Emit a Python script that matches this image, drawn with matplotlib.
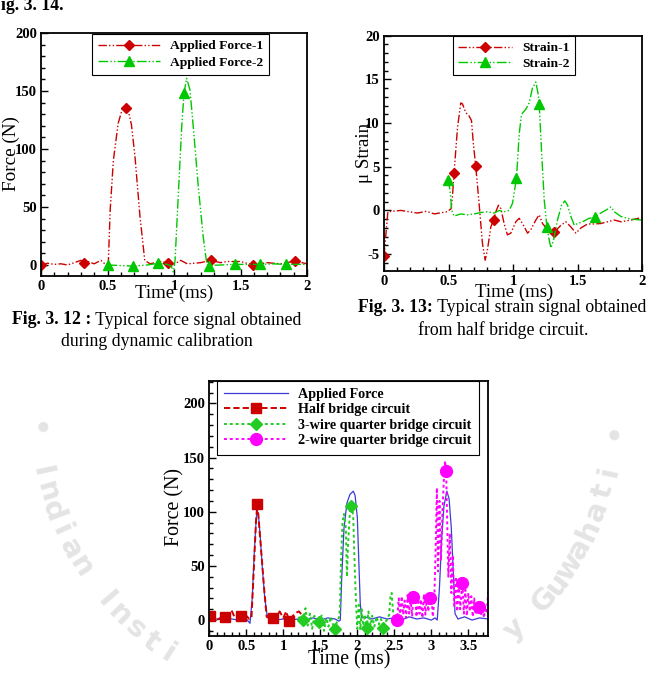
import numpy as np
import matplotlib
matplotlib.use('Agg')
import matplotlib.pyplot as plt
from matplotlib.lines import Line2D
from matplotlib.ticker import MultipleLocator

plt.rcParams['font.family'] = ['Liberation Serif', 'DejaVu Serif']

# ---------------- data: Fig 3.12 (force signal) ----------------
f1_time = [0, 0.05, 0.1, 0.15, 0.2, 0.25, 0.3, 0.323, 0.35, 0.4, 0.45, 0.48, 0.506,
           0.52, 0.544, 0.58, 0.61, 0.64, 0.66, 0.68, 0.707, 0.744, 0.78, 0.82, 0.86,
           0.9, 0.957, 1.0, 1.05, 1.1, 1.15, 1.2, 1.276, 1.35, 1.4, 1.5, 1.596, 1.7,
           1.8, 1.91, 2.0]
f1_force = [0, 1.5, 0.5, 1, 0, 2, 4, 1.5, 3, 1, 4, 1, 1,
            47, 90, 122, 134, 137, 131, 121, 93, 42, 4, 1, 2,
            3, 1.7, 0.5, 4, 1, 1.5, 2, 4, 2, 3, 3, 0, 2,
            1, 3.4, 1]
f1_mk_time = [0, 0.323, 0.64, 0.957, 1.276, 1.596, 1.91]
f1_mk_force = [0, 1.5, 135, 1.7, 4, 0, 3.4]

f2_time = [0.5, 0.6, 0.69, 0.8, 0.882, 0.95, 0.98, 0.995, 1.008, 1.033, 1.058, 1.075,
           1.095, 1.12, 1.145, 1.183, 1.22, 1.246, 1.266, 1.35, 1.459, 1.55, 1.647,
           1.75, 1.84, 2.0]
f2_force = [0, -0.5, -1, 0, 1.5, 0.5, -1, -6, 4, 62, 119, 148,
            161, 151, 119, 67, 24, 1.5, -0.5, 0, 0.5, 0.5, 0.5,
            1, 0.5, 0.5]
f2_mk_time = [0.5, 0.689, 0.882, 1.075, 1.266, 1.459, 1.647, 1.84]
f2_mk_force = [0, -1, 1.5, 148, -0.5, 0.5, 0.5, 0.5]

# ---------------- data: Fig 3.13 (strain signal) ----------------
s1_time = [0, 0.03, 0.13, 0.26, 0.33, 0.39, 0.49, 0.52, 0.53, 0.543, 0.57, 0.595,
           0.608, 0.634, 0.66, 0.678, 0.693, 0.711, 0.737, 0.763, 0.784, 0.802,
           0.828, 0.849, 0.867, 0.887, 0.906, 0.931, 0.957, 0.983, 1.022, 1.048,
           1.081, 1.113, 1.138, 1.177, 1.203, 1.229, 1.268, 1.32, 1.371, 1.41,
           1.449, 1.488, 1.527, 1.578, 1.63, 1.68, 1.733, 1.785, 1.837, 1.915, 2.0]
s1_strain = [-5.2, -0.15, 0, -0.3, -0.1, -0.4, -0.15, 0.2, 1.5, 4.3, 9.5, 12.3,
             12.2, 11.2, 10.8, 10.3, 7.6, 5.1, 0.8, -3.75, -5.7, -4.5,
             -1.9, -1.1, -0.15, 0.6, 0.2, -1.5, -2.8, -2.6, -1.3, -0.9,
             -1.7, -2.6, -2.2, -1.1, -0.5, -1.5, -2.2, -2.5, -1.7, -1.3,
             -1.9, -2.6, -2.0, -1.55, -1.55, -1.5, -1.3, -1.1, -1.3, -1.1, -0.8]
s1_mk_time = [0, 0.543, 0.711, 0.849, 1.32]
s1_mk_strain = [-5.2, 4.3, 5.1, -1.1, -2.5]

s2_time = [0.497, 0.512, 0.525, 0.543, 0.595, 0.647, 0.7, 0.75, 0.8, 0.854, 0.893,
           0.931, 0.97, 0.996, 1.027, 1.048, 1.066, 1.1, 1.125, 1.151, 1.177, 1.195,
           1.203, 1.221, 1.242, 1.263, 1.281, 1.294, 1.314, 1.345, 1.376, 1.402,
           1.423, 1.449, 1.475, 1.5, 1.54, 1.59, 1.635, 1.68, 1.728, 1.76, 1.785,
           1.837, 1.915, 2.0]
s2_strain = [3.5, 2.3, 0, -0.65, -0.4, -0.5, -0.4, -0.25, -0.15, -0.3, 0,
             -0.15, 0, 0.8, 3.7, 8.75, 11, 11.6, 12.3, 14, 14.7, 13.3,
             12.2, 6.9, 1.2, -1.85, -3.4, -4.3, -3.4, -1.1, 0.6, 1.1,
             0.6, -0.7, -1.7, -1.5, -1.3, -0.9, -0.8, -0.3, 0.1, 0.4, -0.15,
             -0.7, -1.0, -1.1]
s2_mk_time = [0.497, 1.027, 1.203, 1.263, 1.635]
s2_mk_strain = [3.5, 3.7, 12.2, -1.85, -0.8]

# ---------------- data: Fig 3.14 (bridge comparison) ----------------
ap_time = [0, 0.1, 0.2, 0.3, 0.4, 0.5, 0.55, 0.58, 0.61, 0.635, 0.65, 0.665, 0.69,
           0.72, 0.75, 0.78, 0.81, 0.9, 1.0, 1.1, 1.2, 1.3, 1.4, 1.5, 1.6, 1.7,
           1.75, 1.77, 1.79, 1.82, 1.86, 1.9, 1.946, 1.97, 2.0, 2.014, 2.04, 2.06,
           2.1, 2.2, 2.3, 2.4, 2.5, 2.6, 2.7, 2.8, 2.9, 3.0, 3.05, 3.08, 3.11,
           3.14, 3.17, 3.21, 3.24, 3.27, 3.3, 3.32, 3.36, 3.45, 3.55, 3.65, 3.77]
ap_force = [0, 1, 0, 1, 0, 1, -3, 20, 65, 95, 101, 96, 75,
            45, 20, 5, 1, 0, 1, 0, 1, 0, 2, 0, 2, 1,
            -1, 0, 40, 85, 108, 116, 119, 115, 95, 67, 15, 2,
            3, 1, 3, 1, 2, 0, 3, 1, 2, 0, 2, 0, 30,
            75, 105, 119, 112, 85, 40, 6, 1, 3, 0, 2, 1]

hb_time = [0, 0.05, 0.1, 0.15, 0.212, 0.26, 0.3, 0.34, 0.428, 0.47, 0.5, 0.54, 0.57,
           0.6, 0.63, 0.649, 0.665, 0.7, 0.74, 0.775, 0.82, 0.865, 0.9, 0.95, 1.0,
           1.04, 1.077, 1.13, 1.18, 1.21, 1.25]
hb_force = [4, 1, 0, 2, 2.5, 4, 9, 3, 4, 6, 4, 1, 2,
            45, 90, 107, 95, 65, 30, 3, 1.5, 2.2, 1, 8, 2,
            8, -0.6, 4, 7, 8, 5]
hb_mk_time = [0.01, 0.212, 0.428, 0.649, 0.865, 1.077]
hb_mk_force = [4, 2.5, 4, 107, 2.2, -0.6]

q3_time = [1.2, 1.25, 1.27, 1.3, 1.33, 1.36, 1.39, 1.42, 1.45, 1.486, 1.52, 1.55,
           1.58, 1.61, 1.64, 1.67, 1.698, 1.73, 1.75, 1.766, 1.78, 1.8, 1.82, 1.845,
           1.86, 1.875, 1.9, 1.91, 1.925, 1.945, 1.96, 1.98, 2.0, 2.02, 2.04, 2.06,
           2.08, 2.1, 2.127, 2.15, 2.18, 2.2, 2.23, 2.26, 2.29, 2.32, 2.35, 2.37,
           2.4, 2.43, 2.45, 2.465, 2.48, 2.5]
q3_force = [2, 3, 0, 11, -5, 6, -8, 4, -3, -2, 5, -10,
            2, -6, 3, -4, -8.6, 0, 2, 12, 55, 90, 98, 85,
            40, 70, 100, 105.5, 108, 95, 60, 20, -8, 14, -9, 10,
            -8, 5, -7.5, 8, -5, 4, -6, 3, -4, 1, -7.5, -2,
            0, 5, 24, 25, 10, 0]
q3_mk_time = [1.27, 1.486, 1.698, 1.91, 2.127, 2.35]
q3_mk_force = [0, -2, -8.6, 105.5, -7.5, -7.5]

q2_time = [2.5, 2.52, 2.54, 2.56, 2.58, 2.6, 2.62, 2.64, 2.66, 2.68, 2.7, 2.72, 2.74,
           2.757, 2.78, 2.8, 2.82, 2.84, 2.86, 2.88, 2.9, 2.92, 2.94, 2.96, 2.98,
           3.0, 3.02, 3.04, 3.06, 3.075, 3.09, 3.11, 3.13, 3.15, 3.17, 3.185, 3.2,
           3.215, 3.23, 3.25, 3.27, 3.29, 3.31, 3.33, 3.35, 3.37, 3.39, 3.42, 3.44,
           3.46, 3.48, 3.5, 3.52, 3.54, 3.56, 3.58, 3.6, 3.62, 3.65, 3.67, 3.69,
           3.71, 3.73, 3.75, 3.77]
q2_force = [0, 0, 2, 20, 3, 22, 5, 18, 2, 23, 6, 20, 4,
            21.5, 24, 3, 22, 6, 19, 2, 24, 5, 21, 8, 20.5,
            24, 3, 18, 70, 122, 45, 110, 55, 100, 130, 147, 138,
            90, 40, 80, 25, 60, 12, 40, 8, 35, 10, 34, 6,
            28, 4, 25, 8, 22, 3, 20, 5, 15, 11.7, 4, 16,
            2, 12, 6, 28]
q2_mk_time = [2.53, 2.757, 2.98, 3.2, 3.42, 3.65]
q2_mk_force = [0, 21.5, 20.5, 138, 34, 11.7]

# tick values / labels
f_xticks = [0, 0.5, 1, 1.5, 2]
f_xticklabels = ['0', '0.5', '1', '1.5', '2']
f1_yticks = [0, 50, 100, 150, 200]
f1_yticklabels = ['0', '50', '100', '150', '200']
s_yticks = [-5, 0, 5, 10, 15, 20]
s_yticklabels = ['-5', '0', '5', '10', '15', '20']
c_xticks = [0, 0.5, 1, 1.5, 2, 2.5, 3, 3.5]
c_xticklabels = ['0', '0.5', '1', '1.5', '2', '2.5', '3', '3.5']

legend1 = ['Applied Force-1', 'Applied Force-2']
legend2 = ['Strain-1', 'Strain-2']
legend3 = ['Applied Force', 'Half bridge circuit', '3-wire quarter bridge circuit',
           '2-wire quarter bridge circuit']
watermark = '• Indian Institute of Technology Guwahati •'

# ---------------- styling ----------------
RED = '#cc0000'
GREEN = '#00c800'
LGREEN = '#22cc22'
MAG = '#ff00ff'
BLUE = '#3c3cd8'
WM = '#e4e4e4'
LS_DDOT = (0, (6, 1.6, 1, 1.6, 1, 1.6))
LS_DDOT2 = (0, (7, 1.6, 1, 1.6, 1, 1.6))
LS_DASH = (0, (3.2, 1.6))
LS_DOT = (0, (1.5, 1.5))

W, H = 648, 676
fig = plt.figure(figsize=(W / 100, H / 100), dpi=100)
fig.patch.set_facecolor('white')


def ax_px(l, t, r, b):
    return fig.add_axes([l / W, 1 - b / H, (r - l) / W, (b - t) / H])


def style(ax, xt, xtl, yt, ytl, xminor, yminor):
    ax.set_xticks(xt)
    ax.set_xticklabels(xtl)
    ax.set_yticks(yt)
    ax.set_yticklabels(ytl)
    ax.xaxis.set_minor_locator(MultipleLocator(xminor))
    ax.yaxis.set_minor_locator(MultipleLocator(yminor))
    ax.tick_params(which='both', direction='in', top=False, right=False, width=1)
    ax.tick_params(which='major', length=5, labelsize=10.5, pad=3)
    ax.tick_params(which='minor', length=3)
    for lab in ax.get_xticklabels() + ax.get_yticklabels():
        lab.set_fontweight('bold')
    for s in ax.spines.values():
        s.set_linewidth(1.3)


def ftext(x, y, s, **kw):
    return fig.text(x / W, 1 - y / H, s, **kw)


# ---- faint watermark (seal text along an arc); letters hidden by the lower
#      chart or beyond the page edge are not drawn ----
cx, cy, rad = 325, 410, 290
angs = np.linspace(176, 4, len(watermark))
for ch, a in zip(watermark, angs):
    th = np.deg2rad(a)
    px = cx + rad * np.cos(th)
    py = cy + rad * np.sin(th)
    if ch == ' ' or py > 662 or (190 < px < 505 and 365 < py < 680):
        continue
    ftext(px, py, ch, ha='center', va='center', rotation=90 - a,
          rotation_mode='anchor', fontsize=21, fontweight='bold',
          family='DejaVu Sans', color=WM, zorder=-5)

# ---- Fig 3.12 ----
ax1 = ax_px(41, 33, 307, 276)
ax1.plot(f1_time, f1_force, color=RED, lw=1, ls=LS_DDOT)
ax1.plot(f1_mk_time, f1_mk_force, ls='none', marker='D', ms=5, color=RED)
ax1.plot(f2_time, f2_force, color=GREEN, lw=1, ls=LS_DDOT2)
ax1.plot(f2_mk_time, f2_mk_force, ls='none', marker='^', ms=6.5, color=GREEN)
ax1.set_xlim(0, 2)
ax1.set_ylim(-9.5, 200)
style(ax1, f_xticks, f_xticklabels, f1_yticks, f1_yticklabels, 0.1, 10)
h1 = [Line2D([], [], color=RED, lw=1, ls=LS_DDOT, marker='D', ms=5),
      Line2D([], [], color=GREEN, lw=1, ls=LS_DDOT2, marker='^', ms=6.5)]
lg = ax1.legend(h1, legend1, loc='upper left', bbox_to_anchor=(0.19, 0.997),
                prop={'weight': 'bold', 'size': 9.7}, fancybox=False, edgecolor='black',
                framealpha=1, handlelength=4.6, handletextpad=0.75, borderpad=0.45,
                labelspacing=0.3, borderaxespad=0)
lg.get_frame().set_linewidth(0.8)
ftext(174, 293, 'Time (ms)', ha='center', va='center', fontsize=13.5)
ftext(11, 154, 'Force (N)', ha='center', va='center', rotation=90, fontsize=13.8)

# ---- Fig 3.13 ----
ax2 = ax_px(384, 35.7, 642, 270.7)
ax2.plot(s1_time, s1_strain, color=RED, lw=1, ls=LS_DDOT)
ax2.plot(s1_mk_time, s1_mk_strain, ls='none', marker='D', ms=5, color=RED)
ax2.plot(s2_time, s2_strain, color=GREEN, lw=1, ls=LS_DDOT2)
ax2.plot(s2_mk_time, s2_mk_strain, ls='none', marker='^', ms=6.5, color=GREEN)
ax2.set_xlim(0, 2)
ax2.set_ylim(-6.9, 20)
style(ax2, f_xticks, f_xticklabels, s_yticks, s_yticklabels, 0.1, 1)
h2 = [Line2D([], [], color=RED, lw=1, ls=LS_DDOT, marker='D', ms=5),
      Line2D([], [], color=GREEN, lw=1, ls=LS_DDOT2, marker='^', ms=6.5)]
lg = ax2.legend(h2, legend2, loc='upper left', bbox_to_anchor=(0.267, 0.997),
                prop={'weight': 'bold', 'size': 9.7}, fancybox=False, edgecolor='black',
                framealpha=1, handlelength=4.0, handletextpad=0.75, borderpad=0.4,
                labelspacing=0.25, borderaxespad=0)
lg.get_frame().set_linewidth(0.8)
ftext(514, 292, 'Time (ms)', ha='center', va='center', fontsize=13.5)
ftext(365, 153, 'μ Strain', ha='center', va='center', rotation=90, fontsize=13.7)

# ---- Fig 3.14 ----
ax3 = ax_px(209.3, 380.7, 488.3, 636)
ax3.plot(ap_time, ap_force, color=BLUE, lw=0.9, ls='-')
ax3.plot(hb_time, hb_force, color=RED, lw=1.4, ls=LS_DASH)
ax3.plot(hb_mk_time, hb_mk_force, ls='none', marker='s', ms=6.5, color=RED)
ax3.plot(q3_time, q3_force, color=LGREEN, lw=1.4, ls=LS_DOT)
ax3.plot(q3_mk_time, q3_mk_force, ls='none', marker='D', ms=6, color=LGREEN)
ax3.plot(q2_time, q2_force, color=MAG, lw=1.4, ls=LS_DOT)
ax3.plot(q2_mk_time, q2_mk_force, ls='none', marker='o', ms=8.5, color=MAG)
ax3.set_xlim(0, 3.77)
ax3.set_ylim(-14.7, 221)
style(ax3, c_xticks, c_xticklabels, f1_yticks, f1_yticklabels, 0.1, 10)
h3 = [Line2D([], [], color=BLUE, lw=0.9),
      Line2D([], [], color=RED, lw=1.4, ls=LS_DASH, marker='s', ms=6.5),
      Line2D([], [], color=LGREEN, lw=1.4, ls=LS_DOT, marker='D', ms=6),
      Line2D([], [], color=MAG, lw=1.4, ls=LS_DOT, marker='o', ms=8.5)]
lg = ax3.legend(h3, legend3, loc='upper left', bbox_to_anchor=(0.0265, 1.0),
                prop={'weight': 'bold', 'size': 10.2}, fancybox=False, edgecolor='black',
                framealpha=1, handlelength=4.5, handletextpad=0.77, borderpad=0.5,
                labelspacing=0.18, borderaxespad=0)
lg.get_frame().set_linewidth(0.8)
ftext(349, 660, 'Time (ms)', ha='center', va='center', fontsize=14.2)
ftext(175, 507, 'Force (N)', ha='center', va='center', rotation=90, fontsize=14.3)

# ---- captions ----
renderer = fig.canvas.get_renderer()


def caption(cxp, cyp, bold, regular, size=12.8):
    tb = ftext(0, cyp, bold, ha='left', va='center', fontsize=size, fontweight='bold')
    tr = ftext(0, cyp, regular, ha='left', va='center', fontsize=size)
    wb = tb.get_window_extent(renderer).width
    wr = tr.get_window_extent(renderer).width
    x0 = cxp - (wb + wr) / 2
    tb.set_x(x0 / W)
    tr.set_x((x0 + wb) / W)


ftext(1, 9.5, 'ig. 3. 14.', ha='left', va='baseline', fontsize=12.8, fontweight='bold')
caption(156.5, 320, 'Fig. 3. 12 :', ' Typical force signal obtained')
ftext(157, 342, 'during dynamic calibration', ha='center', va='center', fontsize=12.8)
caption(502.5, 307, 'Fig. 3. 13:', ' Typical strain signal obtained')
ftext(503, 330, 'from half bridge circuit.', ha='center', va='center', fontsize=12.8)

fig.savefig('out.png', dpi=100, facecolor='white')
